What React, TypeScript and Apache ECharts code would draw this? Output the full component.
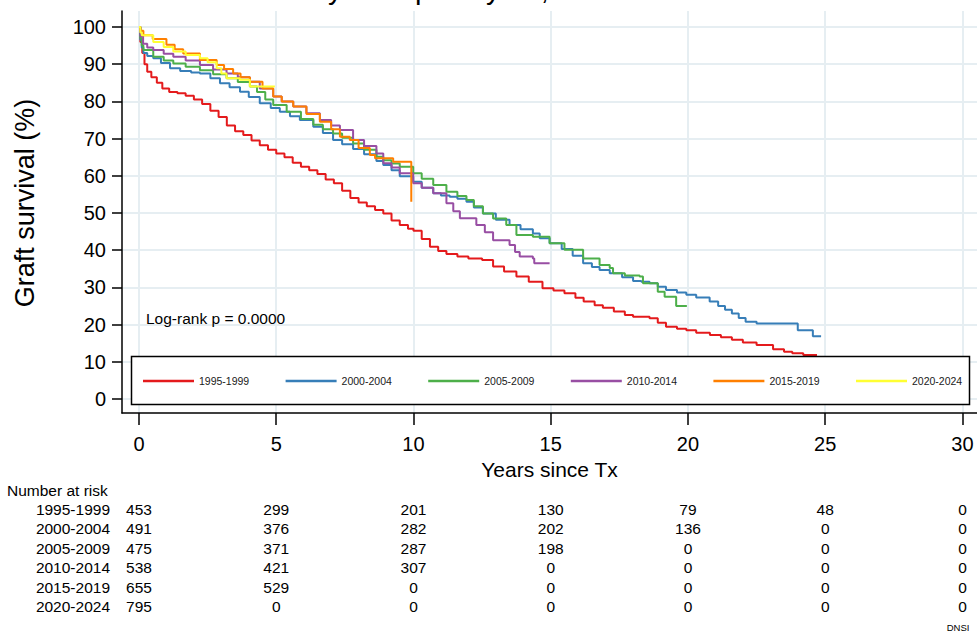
import React, { useEffect, useRef } from "react";
import * as echarts from "echarts";

const FONT = "Arial, 'Liberation Sans', Helvetica, sans-serif";

const cohorts = ["1995-1999", "2000-2004", "2005-2009", "2010-2014", "2015-2019", "2020-2024"];
const colors = ["#e41a1c", "#377eb8", "#4daf4a", "#984ea3", "#ff7f00", "#ffff33"];

// Kaplan-Meier estimates [years since Tx, graft survival %]
const surv1995 = [
  [0, 100], [0.05, 96], [0.12, 93], [0.2, 90], [0.3, 88], [0.45, 86.5], [0.65, 85], [0.85, 83.5],
  [1.1, 82.5], [1.4, 82.2], [1.7, 81.5], [2.0, 80.5], [2.3, 79.3], [2.6, 77.5], [2.9, 75.8],
  [3.2, 73.5], [3.5, 72], [3.8, 71], [4.1, 69.5], [4.4, 68.2], [4.7, 67], [5.0, 66], [5.3, 65],
  [5.6, 63.5], [5.9, 62.4], [6.2, 61.5], [6.5, 60.5], [6.8, 59], [7.1, 58], [7.4, 56], [7.7, 54],
  [8.0, 52.8], [8.3, 51.8], [8.6, 50.8], [8.9, 49.9], [9.2, 48], [9.5, 46.8], [9.8, 45.8],
  [10.0, 45.2], [10.3, 43], [10.6, 40.9], [10.9, 39.8], [11.2, 39], [11.6, 38.3], [12.0, 37.8],
  [12.5, 37.4], [12.9, 35.6], [13.3, 34.3], [13.75, 32.9], [14.2, 31.5], [14.7, 29.8], [15.1, 29.2],
  [15.5, 28.4], [15.9, 27.2], [16.2, 26.2], [16.6, 25.2], [16.9, 24.5], [17.3, 23.5], [17.7, 22.6],
  [18.0, 22.1], [18.6, 21.7], [18.9, 20.5], [19.2, 19.4], [19.6, 18.9], [19.94, 18.5], [20.3, 17.8],
  [20.8, 17.2], [21.2, 16.6], [21.6, 15.9], [22.0, 15.2], [22.5, 14.5], [23.1, 13.4], [23.5, 12.7],
  [23.8, 12.3], [24.2, 11.8], [24.7, 11.8],
];
const surv2000 = [
  [0, 100], [0.05, 96.5], [0.1, 94.5], [0.16, 93], [0.3, 92.2], [0.52, 91.6], [0.8, 90.3],
  [1.13, 88.9], [1.5, 88.2], [1.9, 87.8], [2.22, 87.5], [2.6, 86.2], [2.95, 84.9], [3.3, 83.8],
  [3.68, 82.6], [4.0, 81.2], [4.4, 79.5], [4.8, 78.2], [5.13, 77.2], [5.5, 76], [5.86, 75.0],
  [6.35, 73.2], [6.7, 71.5], [7.07, 69.6], [7.4, 68.5], [7.8, 67.2], [8.2, 65.8], [8.65, 64.0],
  [8.9, 62.9], [9.2, 61.5], [9.5, 59.9], [9.99, 58.4], [10.3, 56.8], [10.72, 55.3], [11.0, 54.7],
  [11.32, 54.4], [11.6, 53.8], [11.93, 53.0], [12.2, 51.5], [12.53, 49.9], [13.0, 48.2], [13.5, 46.8],
  [13.9, 45.6], [14.35, 44.5], [14.6, 43.2], [14.96, 41.9], [15.4, 40.3], [15.8, 38.5], [16.18, 36.5],
  [16.5, 35.5], [16.78, 34.7], [17.15, 33.8], [17.6, 32.7], [18.0, 31.7], [18.3, 31.5], [18.6, 31.1],
  [18.9, 30.2], [19.2, 29.3], [19.6, 28.6], [19.94, 28.0], [20.3, 27.3], [20.79, 26.2], [21.1, 25],
  [21.35, 24.0], [21.6, 23.0], [21.85, 21.8], [22.1, 20.8], [22.5, 20.3], [24.0, 18.5], [24.55, 16.9],
  [24.85, 16.9],
];
const surv2005 = [
  [0, 100], [0.05, 97], [0.1, 95], [0.16, 93.8], [0.52, 92.0], [0.9, 91.0], [1.25, 90.2], [1.7, 89.3],
  [2.22, 88.4], [2.7, 87.3], [3.19, 86.2], [3.6, 85.2], [4.04, 84.0], [4.3, 82.5], [4.6, 80.5],
  [4.89, 79.0], [5.38, 77.2], [5.9, 75.3], [6.35, 73.7], [6.7, 72.5], [7.07, 71.4], [7.4, 70.2],
  [7.8, 68.7], [8.2, 67], [8.65, 65.1], [8.9, 64.2], [9.2, 63.3], [9.5, 62.4], [9.99, 60.7],
  [10.3, 59.2], [10.72, 57.5], [11.2, 55.7], [11.6, 54.6], [11.93, 53.5], [12.2, 51.8], [12.53, 49.9],
  [12.9, 48.5], [13.38, 46.8], [13.75, 44.1], [14.35, 43.6], [14.96, 41.9], [15.5, 40.1], [16.18, 37.8],
  [16.78, 36.0], [17.15, 35.2], [17.27, 33.8], [17.7, 33.2], [18.24, 32.9], [18.36, 31.1], [18.9, 28.8],
  [19.15, 27.5], [19.57, 25.0], [19.96, 25.0],
];
const surv2010 = [
  [0, 100], [0.05, 97.5], [0.15, 95.5], [0.3, 94.5], [0.52, 93.8], [0.9, 92.8], [1.25, 92.0], [1.7, 91.0],
  [2.22, 89.8], [2.7, 88.6], [3.19, 87.5], [3.6, 86.5], [4.04, 85.3], [4.4, 83.5], [4.89, 81.3],
  [5.2, 80], [5.62, 78.6], [6.1, 76.8], [6.59, 75.0], [7.0, 73.5], [7.32, 72.3], [7.8, 69.6], [8.2, 68],
  [8.65, 66.0], [8.9, 63.4], [9.2, 62.2], [9.5, 60.7], [9.99, 58.0], [10.3, 56.8], [10.72, 55.3],
  [11.2, 52.6], [11.45, 50.5], [11.69, 48.6], [12.29, 46.8], [12.6, 44.8], [12.9, 42.7], [13.5, 41.4],
  [13.7, 39.5], [13.87, 38.3], [14.35, 37.8], [14.4, 36.5], [14.96, 36.5],
];
const surv2015 = [
  [0, 100], [0.05, 99], [0.16, 97.8], [0.5, 96.8], [1.0, 95.2], [1.3, 94.0], [1.61, 92.9], [2.22, 91.1],
  [2.83, 89.8], [3.1, 88.7], [3.43, 87.5], [3.7, 86.5], [4.04, 85.3], [4.5, 83.5], [4.89, 81.3],
  [5.2, 80], [5.62, 78.6], [6.1, 76.6], [6.59, 74.5], [7.0, 72.5], [7.32, 70.5], [7.68, 69.6],
  [8.0, 67.5], [8.41, 65.6], [8.6, 64.7], [9.26, 63.8], [9.92, 53.0],
];
const surv2020 = [
  [0, 100], [0.05, 98.5], [0.1, 97.8], [0.52, 96.0], [0.9, 94.6], [1.25, 93.4], [1.7, 92.5],
  [2.22, 91.6], [2.5, 90.5], [2.83, 88.9], [3.0, 87.5], [3.19, 86.2], [3.68, 85.8], [4.04, 84.0],
  [4.95, 84.0],
];
const survData = [surv1995, surv2000, surv2005, surv2010, surv2015, surv2020];

// Number at risk table
const riskTimes = [0, 5, 10, 15, 20, 25, 30];
const risk1995 = [453, 299, 201, 130, 79, 48, 0];
const risk2000 = [491, 376, 282, 202, 136, 0, 0];
const risk2005 = [475, 371, 287, 198, 0, 0, 0];
const risk2010 = [538, 421, 307, 0, 0, 0, 0];
const risk2015 = [655, 529, 0, 0, 0, 0, 0];
const risk2020 = [795, 0, 0, 0, 0, 0, 0];
const riskRows = [risk1995, risk2000, risk2005, risk2010, risk2015, risk2020];

const xTicks = [0, 5, 10, 15, 20, 25, 30];
const yTicks = [0, 10, 20, 30, 40, 50, 60, 70, 80, 90, 100];

const titleText = "Graft survival by transplant year, 1995-2024";
const logRankText = "Log-rank p = 0.0000";

export default function App() {
  const ref = useRef<HTMLDivElement>(null);
  useEffect(() => {
    if (!ref.current) return;
    const chart = echarts.init(ref.current, undefined, { renderer: "svg" });
    const legends = cohorts.map((c, i) => ({
      data: [c],
      left: 143 + i * 142.6,
      top: 375,
      padding: 0,
      itemWidth: 51,
      itemHeight: 2.5,
      itemGap: 0,
      icon: "rect",
      z: 6,
      selectedMode: false,
      textStyle: { fontFamily: FONT, fontSize: 10.5, color: "#1a1a1a", lineHeight: 12 },
    }));
    const option: any = {
      animation: false,
      backgroundColor: "#ffffff",
      grid: { left: 122, right: 0, top: 11, bottom: 218, containLabel: false },
      legend: legends,
      xAxis: {
        type: "value",
        min: -0.619,
        max: 30.53,
        name: "Years since Tx",
        nameLocation: "middle",
        nameGap: 42,
        nameTextStyle: { fontFamily: FONT, fontSize: 21, color: "#000" },
        axisLine: { show: true, onZero: false, lineStyle: { color: "#000", width: 1.5 } },
        axisTick: { show: true, length: 12, customValues: xTicks, lineStyle: { color: "#000", width: 1.5 } },
        axisLabel: { customValues: xTicks, margin: 21, fontFamily: FONT, fontSize: 20, color: "#000" },
        splitLine: { show: true, lineStyle: { color: "#e6eef2", width: 2 } },
      },
      yAxis: {
        type: "value",
        min: -3.76,
        max: 104.3,
        axisLine: { show: true, onZero: false, lineStyle: { color: "#000", width: 1.5 } },
        axisTick: { show: true, length: 10, customValues: yTicks, lineStyle: { color: "#000", width: 1.5 } },
        axisLabel: { customValues: yTicks, margin: 16, fontFamily: FONT, fontSize: 20, color: "#000" },
        splitLine: { show: true, lineStyle: { color: "#e6eef2", width: 2 } },
      },
      series: cohorts.map((c, i) => ({
        name: c,
        type: "line",
        step: "end",
        symbol: "none",
        data: survData[i],
        color: colors[i],
        lineStyle: { color: colors[i], width: 2 },
        z: 2,
      })),
    };
    chart.setOption(option);

    const graphics: any[] = [];
    graphics.push({
      type: "rect",
      z: 4,
      shape: { x: 131.5, y: 356.5, width: 838, height: 48 },
      style: { fill: "#ffffff", stroke: "#000", lineWidth: 1.5 },
    });
    graphics.push({
      type: "text", x: 133, y: -11, z: 5,
      style: { text: titleText, fontFamily: FONT, fontSize: 29, fill: "#000", align: "left", verticalAlign: "middle" },
    });
    graphics.push({
      type: "text", x: 25, y: 203, rotation: Math.PI / 2, z: 5,
      style: { text: "Graft survival (%)", fontFamily: FONT, fontSize: 27, fill: "#000", align: "center", verticalAlign: "middle" },
    });
    graphics.push({
      type: "text", x: 146, y: 318, z: 5,
      style: { text: logRankText, fontFamily: FONT, fontSize: 15.5, fill: "#000", align: "left", verticalAlign: "middle" },
    });
    graphics.push({
      type: "text", x: 7, y: 490, z: 5,
      style: { text: "Number at risk", fontFamily: FONT, fontSize: 15.5, fill: "#000", align: "left", verticalAlign: "middle" },
    });
    riskRows.forEach((row, r) => {
      const y = 509.5 + r * 19.4;
      graphics.push({
        type: "text", x: 110, y, z: 5,
        style: { text: cohorts[r], fontFamily: FONT, fontSize: 15.5, fill: "#000", align: "right", verticalAlign: "middle" },
      });
      row.forEach((v, k) => {
        const x = chart.convertToPixel({ xAxisIndex: 0 }, riskTimes[k]) as number;
        graphics.push({
          type: "text", x, y, z: 5,
          style: { text: String(v), fontFamily: FONT, fontSize: 15.5, fill: "#000", align: "center", verticalAlign: "middle" },
        });
      });
    });
    graphics.push({
      type: "text", x: 958, y: 622, z: 5,
      style: { text: "DNSI", fontFamily: FONT, fontSize: 9.5, fill: "#000", align: "center", verticalAlign: "top" },
    });
    chart.setOption({ graphic: graphics });

    return () => chart.dispose();
  }, []);
  return (
    <div
      ref={ref}
      style={{ position: "fixed", left: 0, top: 0, width: 977, height: 631, background: "#fff" }}
    />
  );
}
